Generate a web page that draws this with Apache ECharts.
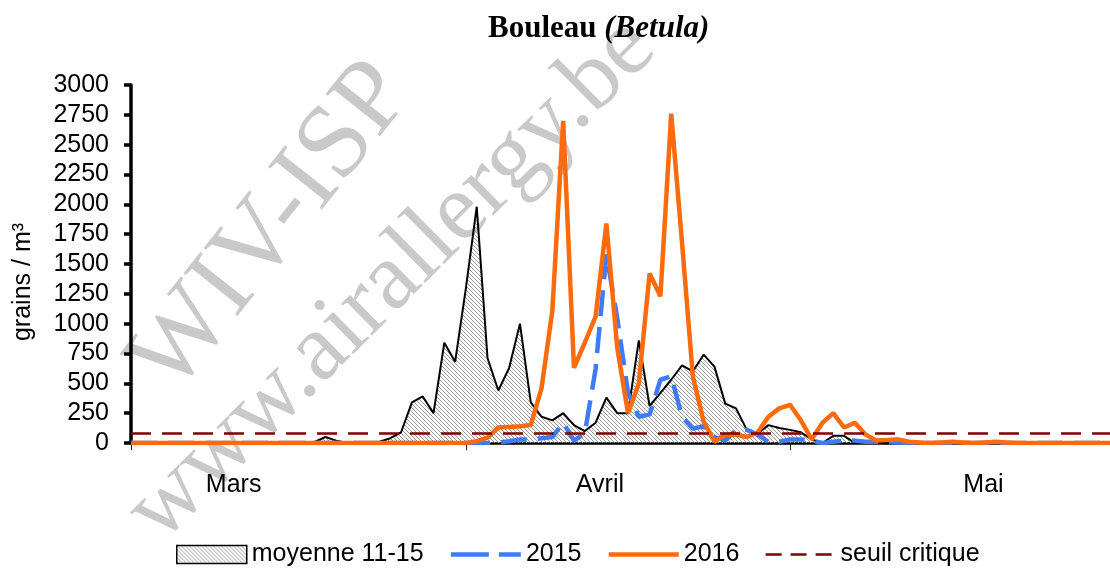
<!DOCTYPE html>
<html>
<head>
<meta charset="utf-8">
<script src="https://cdn.jsdelivr.net/npm/echarts@6.0.0/dist/echarts.min.js"></script>
<style>
  html, body { margin: 0; padding: 0; background: #fff; }
  #chart { width: 1110px; height: 573px; }
</style>
</head>
<body>
<div id="chart"></div>
<script>
// daily counts, 1 March (day 0) to 31 May (day 91), grains / m3
const moyenne = [
  0, 0, 0, 0, 0, 0, 0, 0, 0, 0, 0, 0, 0, 0, 0, 0, 0, 10, 50, 20,
  0, 0, 0, 10, 40, 90, 340, 390, 250, 840, 680, 1300, 1980, 710, 440, 630, 1000, 340, 220, 190,
  250, 150, 100, 170, 380, 250, 250, 860, 310, 420, 530, 650, 600, 740, 640, 330, 290, 110, 80, 150,
  125, 110, 90, 30, 0, 60, 60, 0, 0, 0, 0, 0, 0, 0, 0, 0, 0, 0, 0, 0,
  0, 0, 0, 0, 0, 0, 0, 0, 0, 0, 0, 0
];
const y2015 = [
  0, 0, 0, 0, 0, 0, 0, 0, 0, 0, 0, 0, 0, 0, 0, 0, 0, 0, 0, 0,
  0, 0, 0, 0, 0, 0, 0, 0, 0, 0, 0, 0, 0, 0, 5, 15, 30, 30, 40, 50,
  170, 20, 80, 620, 1580, 1050, 420, 220, 240, 530, 560, 220, 120, 140, 50, 20, 110, 110, 70, 10,
  10, 30, 30, 20, 0, 10, 20, 20, 10, 10, 10, 5, 0, 0, 0, 0, 0, 0, 0, 0,
  0, 0, 0, 0, 0, 0, 0, 0, 0, 0, 0, 0
];
const y2016 = [
  0, 0, 0, 0, 0, 0, 0, 0, 0, 0, 0, 0, 0, 0, 0, 0, 0, 0, 0, 0,
  0, 0, 0, 0, 0, 0, 0, 0, 0, 0, 0, 0, 15, 45, 130, 135, 140, 150, 460, 1110,
  2700, 630, 840, 1060, 1840, 800, 250, 500, 1420, 1230, 2760, 1680, 560, 180, 10, 70, 70, 50, 90, 220,
  290, 320, 190, 30, 170, 250, 130, 170, 70, 20, 25, 30, 10, 5, 0, 5, 10, 5, 0, 5,
  10, 5, 0, 0, 0, 0, 0, 0, 0, 0, 0, 0
];
const seuil = 80;
const monthStarts = [0, 31, 61];
const monthNames = ['Mars', 'Avril', 'Mai'];
const monthLabelDay = [9.5, 43.4, 78.9];
const lastDay = 92;

const SANS = '"Liberation Sans", Arial, sans-serif';
const SERIF = '"Liberation Serif", "Times New Roman", serif';

const BLUE = '#3f7bf7';
const ORANGE = '#ff6a0d';
const DARKRED = '#7f0000';

// diagonal hatch for the average area
const hatch = document.createElement('canvas');
hatch.width = 4;
hatch.height = 4;
const hc = hatch.getContext('2d');
hc.strokeStyle = '#9a9a9a';
hc.lineWidth = 1;
hc.beginPath();
hc.moveTo(-1, -1); hc.lineTo(5, 5);
hc.moveTo(-1, 3); hc.lineTo(1, 5);
hc.moveTo(3, -1); hc.lineTo(5, 1);
hc.stroke();
const hatchFill = { image: hatch, repeat: 'repeat' };

const toPairs = arr => arr.map((v, i) => [i, v]);

const chart = echarts.init(document.getElementById('chart'), null, { renderer: 'canvas' });

const option = {
  animation: false,
  backgroundColor: '#fff',
  title: {
    text: '{b|Bouleau }{i|(Betula)}',
    left: 483,
    top: 8,
    textStyle: {
      rich: {
        b: { fontFamily: SERIF, fontWeight: 'bold', fontSize: 31, color: '#000' },
        i: { fontFamily: SERIF, fontWeight: 'bold', fontStyle: 'italic', fontSize: 31, color: '#000' }
      }
    }
  },
  graphic: [
    {
      type: 'text', x: 272, y: 228, rotation: 0.9, z: 0,
      style: { text: 'WIV-ISP', fontFamily: SERIF, fontSize: 105, fill: '#c9c9c9', align: 'center', verticalAlign: 'middle' }
    },
    {
      type: 'text', x: 392, y: 280, rotation: 0.78, z: 0,
      style: { text: 'www.airallergy.be', fontFamily: SERIF, fontSize: 96, fill: '#c9c9c9', align: 'center', verticalAlign: 'middle' }
    }
  ],
  legend: {
    left: 171,
    top: 537,
    itemWidth: 70,
    itemHeight: 18,
    itemGap: 25,
    selectedMode: false,
    textStyle: { fontFamily: SANS, fontSize: 25, color: '#000' },
    data: [
      { name: 'moyenne 11-15', icon: 'rect', itemStyle: { color: hatchFill, borderColor: '#000', borderWidth: 1.5 } },
      { name: '2015', itemStyle: { opacity: 0 }, lineStyle: { color: BLUE, width: 4.5, type: [38, 10] } },
      { name: '2016', itemStyle: { opacity: 0 }, lineStyle: { color: ORANGE, width: 4.5, type: 'solid' } },
      { name: 'seuil critique', itemStyle: { opacity: 0 }, lineStyle: { color: DARKRED, width: 2.5, type: [16, 9] } }
    ]
  },
  grid: { left: 131, right: -15, top: 85, bottom: 130, containLabel: false, outerBoundsMode: 'none' },
  xAxis: {
    type: 'value',
    min: 0,
    max: lastDay,
    splitLine: { show: false },
    axisLine: { show: true, onZero: false, lineStyle: { color: '#000', width: 2.5 } },
    axisTick: { show: true, customValues: monthStarts, length: 7, lineStyle: { color: '#222', width: 1 } },
    axisLabel: {
      customValues: monthLabelDay,
      margin: 30,
      fontFamily: SANS,
      fontSize: 25,
      color: '#000',
      formatter: v => monthNames[monthLabelDay.indexOf(v)] || ''
    }
  },
  yAxis: {
    type: 'value',
    min: 0,
    max: 3000,
    interval: 250,
    name: 'grains / m³',
    nameLocation: 'middle',
    nameGap: 95,
    nameTextStyle: { fontFamily: SANS, fontSize: 25, color: '#000', padding: [0, 36, 0, 0] },
    splitLine: { show: false },
    axisLine: { show: true, lineStyle: { color: '#000', width: 3.5 } },
    axisTick: { show: true, length: 7, lineStyle: { color: '#000', width: 3.5 } },
    axisLabel: { margin: 22, fontFamily: SANS, fontSize: 25, color: '#000', formatter: v => String(v) }
  },
  series: [
    {
      name: 'moyenne 11-15',
      type: 'line',
      symbol: 'none',
      data: toPairs(moyenne),
      lineStyle: { color: '#000', width: 2 },
      itemStyle: { color: '#000' },
      areaStyle: { color: hatchFill, opacity: 1 },
      z: 2
    },
    {
      name: '2015',
      type: 'line',
      symbol: 'none',
      data: toPairs(y2015),
      lineStyle: { color: BLUE, width: 4.5, type: [26, 11] },
      itemStyle: { color: BLUE },
      z: 3
    },
    {
      name: '2016',
      type: 'line',
      symbol: 'none',
      data: toPairs(y2016),
      lineStyle: { color: ORANGE, width: 4.5 },
      itemStyle: { color: ORANGE },
      z: 4
    },
    {
      name: 'seuil critique',
      type: 'line',
      symbol: 'none',
      data: [[0, seuil], [lastDay, seuil]],
      lineStyle: { color: DARKRED, width: 2.5, type: [20, 11] },
      itemStyle: { color: DARKRED },
      z: 5
    }
  ]
};

chart.setOption(option);
</script>
</body>
</html>
